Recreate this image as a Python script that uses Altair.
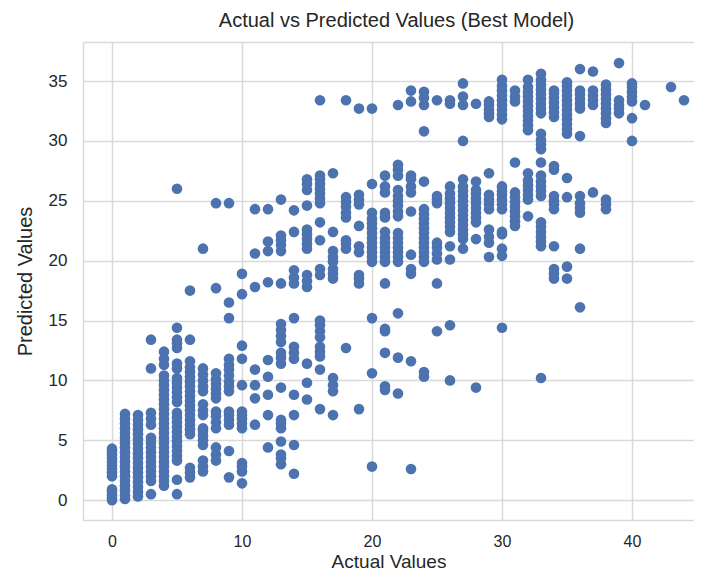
import altair as alt
import pandas as pd

# Actual (integer) values, one per column of points
actual_levels = [0, 1, 2, 3, 4, 5, 6, 7, 8, 9, 10, 11, 12, 13, 14, 15, 16, 17, 18, 19,
                 20, 21, 22, 23, 24, 25, 26, 27, 28, 29, 30, 31, 32, 33, 34, 35, 36,
                 37, 38, 39, 40, 41, 43, 44]

# Predicted values for each actual value above
predicted_groups = [
    [0.0, 0.2, 0.4, 0.7, 0.9, 2.0, 2.3, 2.6, 2.9, 3.2, 3.5, 3.8, 4.1, 4.3],
    [0.1, 0.4, 0.8, 1.2, 1.6, 2.0, 2.4, 2.8, 3.2, 3.6, 4.0, 4.4, 4.8, 5.2, 5.6, 6.0, 6.4, 6.8, 7.2],
    [0.3, 0.7, 1.1, 1.5, 1.9, 2.3, 2.7, 3.1, 3.5, 3.9, 4.3, 4.7, 5.1, 5.5, 5.9, 6.3, 6.7, 7.1],
    [0.5, 1.6, 2.0, 2.4, 2.8, 3.2, 3.6, 4.0, 4.4, 4.8, 5.2, 6.3, 6.8, 7.3, 11.0, 13.4],
    [1.2, 1.6, 2.0, 2.4, 2.8, 3.2, 3.6, 4.0, 4.4, 4.8, 5.2, 5.6, 6.0, 6.4, 6.8, 7.2, 7.6, 8.0,
     8.4, 8.8, 9.2, 9.6, 10.0, 10.4, 11.3, 11.8, 12.4],
    [0.5, 1.7, 3.3, 3.7, 4.1, 4.5, 4.9, 5.3, 5.7, 6.1, 6.5, 6.9, 7.3, 8.2, 8.6, 9.0, 9.4, 9.8,
     10.2, 11.0, 11.4, 12.7, 13.1, 13.4, 14.4, 26.0],
    [1.9, 2.3, 2.7, 5.5, 5.9, 6.3, 6.7, 7.1, 7.5, 7.9, 8.3, 8.7, 9.1, 9.5, 9.9, 10.3, 10.7,
     11.1, 11.6, 13.4, 17.5],
    [2.4, 2.8, 3.3, 4.6, 5.0, 5.4, 5.8, 6.0, 7.1, 7.5, 8.0, 9.1, 9.5, 10.0, 10.5, 11.0, 21.0],
    [3.3, 3.8, 4.4, 6.0, 6.5, 7.0, 7.4, 8.5, 8.9, 9.3, 9.7, 10.1, 10.6, 17.7, 24.8],
    [1.9, 4.1, 6.3, 6.7, 7.1, 7.4, 9.1, 9.5, 9.9, 10.4, 10.9, 11.3, 11.8, 15.2, 16.5, 24.8],
    [1.4, 2.4, 2.8, 3.1, 6.0, 6.4, 6.8, 7.1, 7.4, 9.6, 11.8, 12.9, 17.2, 18.9],
    [6.3, 8.5, 9.6, 10.9, 17.8, 20.6, 24.3],
    [4.4, 7.1, 8.8, 10.3, 11.7, 18.2, 20.8, 21.6, 24.3],
    [3.0, 3.5, 3.8, 4.9, 6.0, 6.4, 6.7, 9.4, 11.4, 11.9, 12.3, 13.2, 13.7, 14.2, 14.7, 18.1,
     20.8, 21.3, 21.7, 22.1, 25.1],
    [2.2, 4.6, 7.1, 8.8, 11.8, 12.3, 12.8, 15.2, 18.1, 18.6, 19.2, 22.4, 24.2],
    [8.4, 9.8, 11.4, 17.8, 18.3, 18.8, 21.0, 21.4, 21.8, 22.2, 22.6, 24.6, 25.9, 26.4, 26.8],
    [7.6, 10.9, 12.0, 12.4, 12.8, 13.6, 14.1, 14.6, 15.0, 18.8, 19.3, 21.7, 23.2, 24.8, 25.2,
     25.6, 26.0, 26.4, 26.8, 27.1, 33.4],
    [7.1, 9.1, 9.6, 10.2, 18.5, 18.9, 19.3, 19.9, 20.3, 20.8, 22.4, 27.3],
    [12.7, 21.0, 21.4, 21.7, 23.6, 24.0, 24.5, 24.9, 25.3, 33.4],
    [7.6, 18.1, 18.5, 18.8, 20.7, 21.2, 22.9, 24.7, 25.1, 25.5, 32.7],
    [2.8, 10.6, 15.2, 19.9, 20.3, 20.7, 21.1, 21.5, 21.9, 22.3, 22.7, 23.1, 23.5, 24.0, 26.4, 32.7],
    [9.2, 9.5, 12.3, 14.1, 14.3, 18.1, 19.9, 20.3, 20.7, 21.1, 21.5, 21.9, 22.4, 23.6, 24.0,
     25.7, 26.2, 27.1],
    [8.9, 11.9, 15.6, 19.9, 20.3, 20.7, 21.1, 21.5, 21.9, 22.3, 23.7, 24.1, 24.6, 25.0, 25.4,
     25.9, 27.1, 27.6, 28.0, 33.0],
    [2.6, 11.6, 18.9, 19.3, 20.5, 24.1, 25.7, 26.2, 26.8, 27.1, 33.3, 34.2],
    [10.3, 10.7, 19.9, 20.3, 20.7, 21.1, 21.5, 21.9, 22.3, 22.7, 23.1, 23.5, 23.9, 24.3, 26.6,
     30.8, 33.0, 33.6, 34.1],
    [14.1, 18.1, 20.1, 20.6, 21.1, 21.5, 24.8, 25.1, 25.4, 33.4],
    [10.0, 14.6, 20.1, 21.2, 22.4, 22.8, 23.2, 23.6, 24.0, 24.4, 24.8, 25.2, 25.6, 26.2, 33.1, 33.4],
    [21.0, 21.8, 22.2, 22.6, 23.0, 23.4, 23.8, 24.2, 24.6, 25.0, 25.4, 25.8, 26.2, 26.8, 30.0,
     33.0, 33.7, 34.8],
    [9.4, 21.8, 23.2, 23.6, 24.0, 24.4, 24.8, 25.2, 25.6, 25.9, 26.6, 33.1],
    [20.3, 21.5, 22.0, 22.6, 24.3, 24.7, 25.1, 25.5, 27.3, 32.0, 32.3, 32.6, 33.0, 33.3],
    [14.4, 20.4, 21.0, 22.2, 22.4, 24.3, 24.7, 25.1, 25.5, 25.8, 26.2, 31.8, 32.2, 32.6, 33.0,
     33.4, 33.8, 34.2, 34.6, 35.1],
    [22.9, 23.3, 23.7, 24.1, 24.5, 24.9, 25.3, 25.7, 28.2, 33.3, 33.7, 34.2],
    [23.7, 25.1, 25.5, 25.9, 26.3, 26.7, 27.3, 30.9, 31.3, 31.7, 32.1, 32.5, 32.9, 33.3, 33.7,
     34.1, 34.5, 35.1],
    [10.2, 21.2, 21.6, 22.0, 22.4, 22.8, 23.2, 25.4, 25.8, 26.2, 26.6, 27.1, 28.2, 29.3, 29.7,
     30.1, 30.6, 32.3, 32.7, 33.1, 33.5, 33.9, 34.3, 34.7, 35.1, 35.6],
    [18.5, 18.9, 19.3, 21.2, 24.3, 24.7, 25.0, 25.4, 27.6, 27.9, 32.0, 32.4, 32.8, 33.2, 33.6,
     34.0, 34.2],
    [18.5, 19.5, 25.3, 26.9, 30.6, 31.0, 31.4, 31.8, 32.2, 32.6, 33.0, 33.4, 33.8, 34.2, 34.6, 34.9],
    [16.1, 21.0, 24.0, 24.4, 24.8, 25.4, 30.4, 32.7, 33.1, 33.5, 33.9, 34.2, 36.0],
    [25.7, 33.0, 33.4, 33.8, 34.2, 35.8],
    [24.3, 24.7, 25.1, 31.5, 31.9, 32.3, 32.7, 33.1, 33.5, 33.9, 34.3, 34.7],
    [32.3, 32.7, 33.0, 33.4, 36.5],
    [30.0, 31.9, 33.3, 33.7, 34.1, 34.5, 34.8],
    [33.0],
    [34.5],
    [33.4],
]

x_ticks = [0, 10, 20, 30, 40]
y_ticks = [0, 5, 10, 15, 20, 25, 30, 35]

rows = [{"Actual": a, "Predicted": p}
        for a, group in zip(actual_levels, predicted_groups) for p in group]
df = pd.DataFrame(rows)

FONT = "Liberation Sans"
TEXT = "#262626"
GRID = "#d9d9d9"

x_scale = alt.Scale(domain=[-2.23, 44.77], nice=False, zero=False)
y_scale = alt.Scale(domain=[-1.66, 38.26], nice=False, zero=False)

y_enc = alt.Y("Predicted:Q", scale=y_scale,
              axis=alt.Axis(values=y_ticks, title="Predicted Values", ticks=False, tickSize=0,
                            labelPadding=16, titleX=-58, titleBaseline="middle",
                            domain=True, domainColor=GRID, domainWidth=1.5))

base = alt.Chart(df)

points = base.mark_circle(size=113, color="#4C72B0", opacity=1).encode(
    x=alt.X("Actual:Q", scale=x_scale,
            axis=alt.Axis(values=x_ticks, title="Actual Values", ticks=False, tickSize=0,
                          labelPadding=21, labelBaseline="middle", labelFontSize=16,
                          titleY=47, titleBaseline="alphabetic", titleFontSize=19,
                          domain=True, domainColor=GRID, domainWidth=1.5)),
    y=y_enc,
)

# top border of the frame, drawn as a label-less axis line
top_frame = base.mark_circle(opacity=0).encode(
    x=alt.X("Actual:Q", scale=x_scale,
            axis=alt.Axis(orient="top", labels=False, ticks=False, grid=False, title=None,
                          domain=True, domainColor=GRID, domainWidth=1.5)),
    y=y_enc,
)

chart = alt.layer(points, top_frame).resolve_axis(x="independent").properties(
    width=611,
    height=478,
    title=alt.TitleParams("Actual vs Predicted Values (Best Model)", fontSize=20,
                          font=FONT, color=TEXT, fontWeight="normal", offset=14,
                          baseline="alphabetic", dx=8, dy=19),
    autosize=alt.AutoSizeParams(type="none"),
    padding={"left": 75, "top": 34, "right": 0, "bottom": 52},
).configure_view(
    strokeWidth=0
).configure_axis(
    domain=False, grid=True, gridColor=GRID, gridWidth=1.5,
    labelFont=FONT, labelFontSize=17, labelColor=TEXT,
    titleFont=FONT, titleFontSize=20, titleColor=TEXT, titleFontWeight="normal",
)

chart.save("out.html", embed_options={"renderer": "svg", "actions": False})
